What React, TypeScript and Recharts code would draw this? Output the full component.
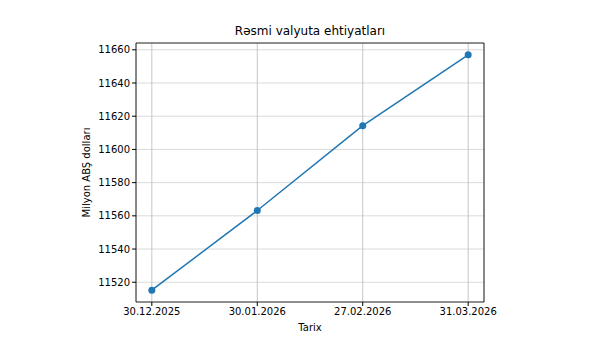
import * as React from "react";
import { LineChart, Line, XAxis, YAxis, CartesianGrid, ReferenceArea } from "recharts";

const dates = ["30.12.2025", "30.01.2026", "27.02.2026", "31.03.2026"];
const reserves = [11515.2, 11563.2, 11614.3, 11657.0];
const yTicks = [11520, 11540, 11560, 11580, 11600, 11620, 11640, 11660];
const xTicks = [0, 1, 2, 3];

const data = dates.map((d, i) => ({ idx: i, date: d, value: reserves[i] }));

const X_DOMAIN: [number, number] = [-0.15, 3.15];
const Y_DOMAIN: [number, number] = [11508.1, 11664.1];
const FONT = "DejaVu Sans, sans-serif";

export default function App() {
  return (
    <div style={{ position: "absolute", left: 0, top: 0, width: 596, height: 345, background: "#fff" }}>
      <div
        style={{
          position: "absolute",
          left: 136,
          width: 348,
          top: 24,
          textAlign: "center",
          fontFamily: FONT,
          fontSize: 12,
          color: "#000",
        }}
      >
        Rəsmi valyuta ehtiyatları
      </div>
      <LineChart width={596} height={345} data={data} margin={{ top: 43, right: 112, left: 60, bottom: 12 }}>
        <CartesianGrid horizontal={true} vertical={false} stroke="#d0d0d0" strokeWidth={0.8} />
        <CartesianGrid horizontal={false} vertical={true} stroke="#b8b8b8" strokeWidth={0.8} />
        <XAxis
          dataKey="idx"
          type="number"
          domain={X_DOMAIN}
          ticks={xTicks}
          allowDataOverflow
          tickFormatter={(v: number) => dates[v] ?? ""}
          tick={{ fontSize: 10, fill: "#000", fontFamily: FONT }}
          tickLine={{ stroke: "#000" }}
          tickSize={4}
          axisLine={false}
          height={31}
          label={{ value: "Tarix", position: "insideBottom", offset: 2, fontSize: 10, fill: "#000", fontFamily: FONT }}
        />
        <YAxis
          type="number"
          domain={Y_DOMAIN}
          ticks={yTicks}
          allowDataOverflow
          tick={{ fontSize: 10, fill: "#000", fontFamily: FONT }}
          tickLine={{ stroke: "#000" }}
          tickSize={4}
          axisLine={false}
          width={76}
          label={{
            value: "Milyon ABŞ dolları",
            angle: -90,
            position: "insideLeft",
            offset: 26,
            style: { textAnchor: "middle" },
            fontSize: 10,
            fill: "#000",
            fontFamily: FONT,
          }}
        />
        <ReferenceArea
          x1={X_DOMAIN[0]}
          x2={X_DOMAIN[1]}
          y1={Y_DOMAIN[0]}
          y2={Y_DOMAIN[1]}
          fill="none"
          stroke="#000"
          strokeWidth={0.8}
          ifOverflow="extendDomain"
        />
        <Line
          type="linear"
          dataKey="value"
          stroke="#1f77b4"
          strokeWidth={1.5}
          dot={{ r: 3.5, fill: "#1f77b4", stroke: "#1f77b4", strokeWidth: 0 }}
          activeDot={false}
          isAnimationActive={false}
        />
      </LineChart>
    </div>
  );
}
